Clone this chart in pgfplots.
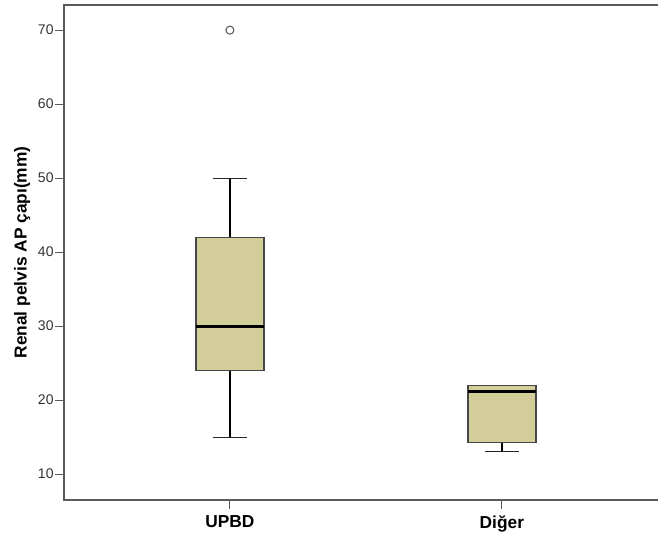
\documentclass[border=0pt]{standalone}
\usepackage{fontspec}
\setmainfont{Liberation Sans}
\usepackage{pgfplots}
\pgfplotsset{compat=1.18}
\definecolor{boxfill}{HTML}{D3CE99}
\definecolor{framegray}{HTML}{5A5A5A}
\begin{document}
\begin{tikzpicture}
\begin{axis}[
  scale only axis,
  width=447.5pt, height=371.25pt,
  xmin=0.39, xmax=2.5838,
  ymin=6.5, ymax=73.4,
  axis line style={framegray, line width=0.8pt},
  xtick={1,2}, xticklabels={UPBD,Diğer},
  xtick pos=bottom, ytick pos=left,
  ytick={10,20,30,40,50,60,70},
  tick align=outside,
  major tick length=6.5pt,
  tick style={framegray, line width=0.8pt},
  /pgf/number format/assume math mode=true,
  yticklabel style={font=\fontsize{10.5}{12}\selectfont, color=black!80, xshift=2.2pt},
  xticklabel style={font=\fontsize{13}{15}\selectfont\bfseries, yshift=-1.5pt},
  ylabel={Renal pelvis AP çapı(mm)},
  ylabel style={font=\fontsize{13}{15}\selectfont\bfseries, at={(axis description cs:-0.070,0.5)}, anchor=center},
  clip=false,
]
% UPBD: lower whisker 15, Q1 24, median 30, Q3 42, upper whisker 50, outlier 70
\addplot[black, line width=1pt] coordinates {(1,42) (1,50)};
\addplot[black!85, line width=0.9pt] coordinates {(0.9365,50) (1.0635,50)};
\addplot[black, line width=1pt] coordinates {(1,24) (1,15)};
\addplot[black!85, line width=0.9pt] coordinates {(0.9365,15) (1.0635,15)};
\addplot[fill=boxfill, draw=black!72, line width=1pt] coordinates {(0.875,24) (1.125,24) (1.125,42) (0.875,42)} -- cycle;
\addplot[black, line width=2.2pt] coordinates {(0.875,30) (1.125,30)};
\addplot[only marks, mark=o, mark size=3pt, mark options={draw=black!65, fill=white, line width=0.8pt}] coordinates {(1,70)};
% Diger: lower whisker 13, Q1 14.3, median 21.2, Q3 22, upper whisker 22
\addplot[black, line width=1pt] coordinates {(2,14.3) (2,13)};
\addplot[black!85, line width=0.9pt] coordinates {(1.9365,13) (2.0635,13)};
\addplot[fill=boxfill, draw=black!72, line width=1pt] coordinates {(1.875,14.3) (2.125,14.3) (2.125,22) (1.875,22)} -- cycle;
\addplot[black, line width=2.2pt] coordinates {(1.875,21.2) (2.125,21.2)};
\end{axis}
\pgfresetboundingbox
\path (-48pt,-28.5pt) rectangle (445.5pt,375pt);
\end{tikzpicture}
\end{document}
